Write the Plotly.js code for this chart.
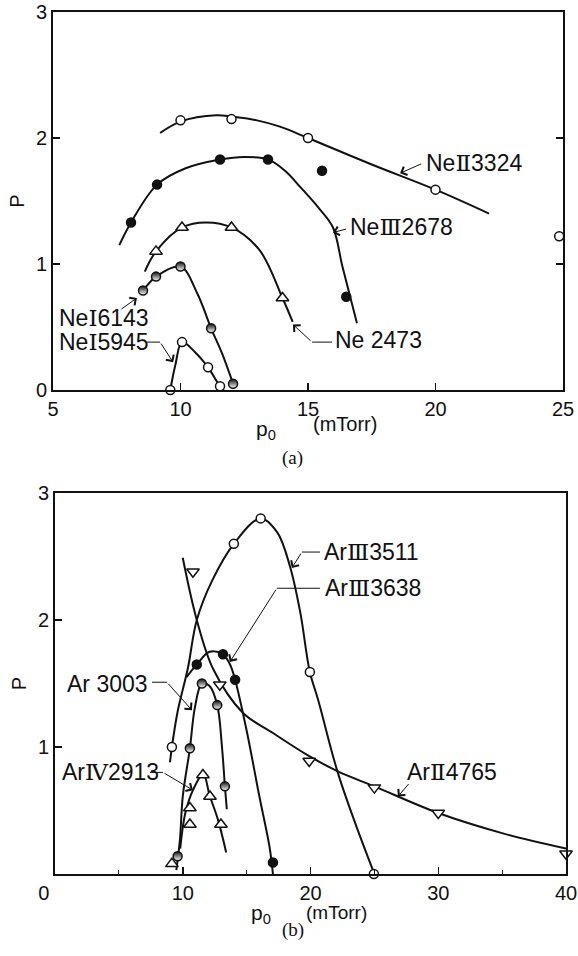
<!DOCTYPE html>
<html><head><meta charset="utf-8">
<script src="https://cdn.plot.ly/plotly-3.0.1.min.js"></script>
<style>html,body{margin:0;padding:0;background:#fff}</style>
</head><body><div id="chart" style="width:578px;height:956px"></div>
<script>
// ---------- Panel (a): neon lines ----------
const ne3324_x = [10, 12, 15, 20, 24.85];
const ne3324_y = [2.14, 2.15, 2.0, 1.59, 1.22];
const ne3324_cx = [9.2, 10.0, 11.4, 12.0, 13.0, 13.9, 15.0, 17.5, 20.0, 22.1];
const ne3324_cy = [2.04, 2.13, 2.18, 2.17, 2.14, 2.09, 2.0, 1.79, 1.59, 1.40];

const ne2678_x = [8.06, 9.08, 11.55, 13.43, 15.55, 16.5];
const ne2678_y = [1.33, 1.63, 1.83, 1.83, 1.74, 0.74];
const ne2678_cx = [7.6, 8.06, 9.08, 10.2, 11.55, 12.5, 13.43, 14.1, 14.7, 15.4, 15.98, 16.35, 16.92];
const ne2678_cy = [1.15, 1.33, 1.63, 1.76, 1.83, 1.85, 1.83, 1.74, 1.61, 1.45, 1.29, 0.98, 0.53];

const ne2473_x = [9.04, 10.06, 12.0, 14.0];
const ne2473_y = [1.10, 1.29, 1.29, 0.73];
const ne2473_cx = [8.6, 9.04, 10.06, 11.0, 12.0, 13.1, 14.0, 14.4];
const ne2473_cy = [0.94, 1.10, 1.29, 1.33, 1.29, 1.11, 0.73, 0.54];

const ne6143_x = [8.53, 9.04, 10.0, 11.2, 12.06];
const ne6143_y = [0.79, 0.90, 0.98, 0.49, 0.05];
const ne6143_cx = [8.45, 8.53, 9.04, 10.0, 10.65, 11.2, 11.63, 12.06];
const ne6143_cy = [0.77, 0.79, 0.90, 0.98, 0.77, 0.49, 0.29, 0.05];

const ne5945_x = [9.6, 10.06, 11.08, 11.55];
const ne5945_y = [0.0, 0.38, 0.18, 0.03];
const ne5945_cx = [9.6, 9.8, 10.06, 10.57, 11.08, 11.55, 11.7];
const ne5945_cy = [0.0, 0.2, 0.38, 0.30, 0.18, 0.03, 0.0];

// ---------- Panel (b): argon lines ----------
const ar3511_x = [9.15, 14.0, 16.1, 19.95, 24.96];
const ar3511_y = [1.0, 2.6, 2.8, 1.59, 0.0];
const ar3511_cx = [9.0, 9.15, 9.6, 10.4, 11.1, 12.3, 14.0, 16.1, 17.4, 18.4, 19.2, 19.95, 20.6, 22.1, 23.5, 25.0];
const ar3511_cy = [0.88, 1.0, 1.28, 1.62, 2.0, 2.31, 2.6, 2.8, 2.69, 2.42, 2.06, 1.59, 1.37, 0.81, 0.40, 0.0];

const ar3638_x = [11.1, 13.15, 14.1, 17.06];
const ar3638_y = [1.65, 1.73, 1.53, 0.09];
const ar3638_cx = [10.3, 11.1, 12.1, 13.15, 13.7, 14.1, 15.0, 16.0, 16.8, 17.06];
const ar3638_cy = [1.55, 1.65, 1.75, 1.73, 1.65, 1.53, 1.13, 0.61, 0.21, 0.0];

const ar3003_x = [9.6, 10.56, 11.5, 12.7, 13.3];
const ar3003_y = [0.14, 0.99, 1.50, 1.33, 0.69];
const ar3003_cx = [9.5, 9.78, 10.0, 10.56, 10.95, 11.5, 12.1, 12.7, 13.07, 13.3, 13.45];
const ar3003_cy = [0.03, 0.27, 0.61, 0.99, 1.31, 1.50, 1.48, 1.33, 1.0, 0.69, 0.51];

const ar2913_x = [9.15, 10.56, 10.56, 11.58, 12.13, 12.99];
const ar2913_y = [0.08, 0.52, 0.39, 0.78, 0.61, 0.39];
const ar2913_cx = [9.8, 10.2, 10.8, 11.6, 12.1, 12.75, 13.4];
const ar2913_cy = [0.2, 0.48, 0.66, 0.79, 0.62, 0.43, 0.17];

const ar4765_x = [10.8, 12.9, 19.9, 25.0, 30.0, 40.0];
const ar4765_y = [2.38, 1.49, 0.89, 0.68, 0.48, 0.16];
const ar4765_cx = [10.0, 11.1, 12.4, 14.7, 17.06, 19.7, 22.1, 25.0, 30.0, 35.06, 40.0];
const ar4765_cy = [2.49, 2.0, 1.61, 1.27, 1.11, 0.94, 0.81, 0.69, 0.48, 0.32, 0.20];

// ---------- Tick labels ----------
const a_xticks = [5, 10, 15, 20, 25];
const a_yticks = [0, 1, 2, 3];
const b_xticks = [0, 10, 20, 30, 40];
const b_xticktext = ['0\u00a0\u00a0\u00a0\u00a0', '10', '20', '30', '40'];
const b_xminor = [5, 15, 25, 35];
const b_yticks = [1, 2, 3];

const FONT = 'Liberation Sans, DejaVu Sans, sans-serif';
const LINE = {color: '#111', width: 2, shape: 'spline', smoothing: 1};
const RN = s => '<span style="font-family:\'DejaVu Serif\'">' + s + '</span>';

function curve(x, y, ax) {
  return {x, y, type: 'scatter', mode: 'lines', line: LINE, xaxis: ax[0], yaxis: ax[1], hoverinfo: 'skip', cliponaxis: false};
}
function pts(x, y, ax, kind) {
  const m = {size: 9, line: {color: '#111', width: 1.5}};
  if (kind === 'open') { m.symbol = 'circle'; m.color = '#fff'; }
  if (kind === 'filled') { m.symbol = 'circle'; m.color = '#111'; }
  if (kind === 'half') { m.symbol = 'circle'; m.color = '#111'; m.gradient = {type: 'vertical', color: '#fff'}; }
  if (kind === 'tri') { m.symbol = 'triangle-up'; m.color = '#fff'; m.size = 11; }
  if (kind === 'tridown') { m.symbol = 'triangle-down'; m.color = '#fff'; m.size = 11; }
  return {x, y, type: 'scatter', mode: 'markers', marker: m, xaxis: ax[0], yaxis: ax[1], cliponaxis: false};
}
const A = ['x', 'y'], B = ['x2', 'y2'];

const data = [
  curve(ne3324_cx, ne3324_cy, A), curve(ne2678_cx, ne2678_cy, A), curve(ne2473_cx, ne2473_cy, A),
  curve(ne6143_cx, ne6143_cy, A), curve(ne5945_cx, ne5945_cy, A),
  curve(ar3511_cx, ar3511_cy, B), curve(ar3638_cx, ar3638_cy, B), curve(ar3003_cx, ar3003_cy, B),
  curve(ar2913_cx, ar2913_cy, B), curve(ar4765_cx, ar4765_cy, B),
  pts(ne3324_x, ne3324_y, A, 'open'), pts(ne2678_x, ne2678_y, A, 'filled'), pts(ne2473_x, ne2473_y, A, 'tri'),
  pts(ne6143_x, ne6143_y, A, 'half'), pts(ne5945_x, ne5945_y, A, 'open'),
  pts(ar3511_x, ar3511_y, B, 'open'), pts(ar3638_x, ar3638_y, B, 'filled'), pts(ar3003_x, ar3003_y, B, 'half'),
  pts(ar2913_x, ar2913_y, B, 'tri'), pts(ar4765_x, ar4765_y, B, 'tridown')
];

const W = 578, H = 956;
const axBase = {
  showgrid: false, zeroline: false, showline: true, linecolor: '#111', linewidth: 2,
  ticks: 'inside', ticklen: 7, tickwidth: 1.5, tickcolor: '#111',
  tickfont: {family: FONT, size: 20, color: '#111'}, fixedrange: true
};
const titleFont = {family: FONT, size: 20, color: '#111'};

function label(text, x, y, ax) {
  return {text, x, y, xref: ax[0], yref: ax[1], showarrow: false, xanchor: 'left', yanchor: 'middle',
          font: {family: FONT, size: 23, color: '#111'}};
}
function ptext(text, px, py, size, fam) {
  return {text, x: px / W, y: 1 - py / H, xref: 'paper', yref: 'paper', showarrow: false,
          xanchor: 'left', yanchor: 'middle', borderpad: 0, font: {family: fam || FONT, size, color: '#111'}};
}
function arrow(tx, ty, hx, hy, ax) {
  return {text: '', x: hx, y: hy, ax: tx, ay: ty, xref: ax[0], yref: ax[1], axref: ax[0], ayref: ax[1],
          showarrow: true, arrowhead: 4, arrowsize: 1.8, arrowwidth: 1, arrowcolor: '#111', standoff: 0, startstandoff: 0};
}
function seg(x0, y0, x1, y1, ax) {
  return {type: 'line', x0, y0, x1, y1, xref: ax[0], yref: ax[1], line: {color: '#111', width: 1}};
}

const layout = {
  width: W, height: H, margin: {l: 0, r: 0, t: 0, b: 0},
  paper_bgcolor: '#fff', plot_bgcolor: '#fff', showlegend: false,
  xaxis: Object.assign({}, axBase, {domain: [53 / W, 563 / W], range: [5, 25], tickvals: a_xticks, mirror: true, anchor: 'y'}),
  yaxis: Object.assign({}, axBase, {domain: [1 - 390 / H, 1 - 12 / H], range: [0, 3], tickvals: a_yticks, mirror: 'ticks', anchor: 'x',
    title: {text: 'P', font: titleFont, standoff: 6}}),
  xaxis2: Object.assign({}, axBase, {domain: [55 / W, 566 / W], range: [0, 40], tickvals: b_xticks, ticktext: b_xticktext, mirror: true, anchor: 'y2',
    minor: {tickvals: b_xminor, ticks: 'inside', ticklen: 4, tickwidth: 1.2, tickcolor: '#111'}}),
  yaxis2: Object.assign({}, axBase, {domain: [1 - 874 / H, 1 - 493 / H], range: [0, 3], tickvals: b_yticks, mirror: true, anchor: 'x2',
    title: {text: 'P', font: titleFont, standoff: 6}}),
  annotations: [
    label('Ne' + RN('\u2161') + '3324', 19.55, 1.80, A),
    label('Ne' + RN('\u2162') + '2678', 16.57, 1.29, A),
    label('Ne 2473', 15.98, 0.40, A),
    label('Ne' + RN('\u2160') + '6143', 5.16, 0.57, A),
    label('Ne' + RN('\u2160') + '5945', 5.16, 0.38, A),
    arrow(19.5, 1.80, 18.61, 1.72, A),
    arrow(16.55, 1.28, 15.98, 1.25, A),
    arrow(15.16, 0.38, 14.41, 0.52, A),
    arrow(7.63, 0.635, 8.29, 0.73, A),
    arrow(9.2, 0.38, 9.71, 0.22, A),
    label('Ar' + RN('\u2162') + '3511', 20.9, 2.535, B),
    label('Ar' + RN('\u2162') + '3638', 20.97, 2.25, B),
    label('Ar 3003', 0.78, 1.50, B),
    label('Ar' + RN('\u2163') + '2913', 0.39, 0.80, B),
    label('Ar' + RN('\u2161') + '4765', 27.39, 0.80, B),
    arrow(19.33, 2.535, 18.54, 2.41, B),
    arrow(17.37, 2.25, 13.69, 1.67, B),
    arrow(8.76, 1.51, 10.72, 1.29, B),
    arrow(8.45, 0.80, 10.8, 0.66, B),
    arrow(27.78, 0.72, 26.84, 0.61, B),
    // x-axis titles
    ptext('p<sub>0</sub>', 255, 430, 21),
    ptext('(mTorr)', 312, 424, 20),
    ptext('p<sub>0</sub>', 250, 914, 21),
    ptext('(mTorr)', 305, 912, 19),
    // panel captions
    {text: '(a)', x: 292 / W, y: 1 - 458 / H, xref: 'paper', yref: 'paper', showarrow: false,
     font: {family: 'Liberation Serif, serif', size: 19, color: '#111'}},
    {text: '(b)', x: 293 / W, y: 1 - 942 / H, xref: 'paper', yref: 'paper', showarrow: false, borderpad: 0,
     font: {family: 'Liberation Serif, serif', size: 19, color: '#111'}}
  ],
  shapes: [
    seg(15.94, 0.38, 15.16, 0.38, A),
    seg(8.69, 0.38, 9.2, 0.38, A),
    seg(20.74, 2.535, 19.33, 2.535, B),
    seg(20.74, 2.25, 17.37, 2.25, B),
    seg(7.59, 1.51, 8.76, 1.51, B),
    seg(7.43, 0.80, 8.45, 0.80, B)
  ]
};

Plotly.newPlot('chart', data, layout, {displayModeBar: false, staticPlot: true});
</script>
</body></html>
